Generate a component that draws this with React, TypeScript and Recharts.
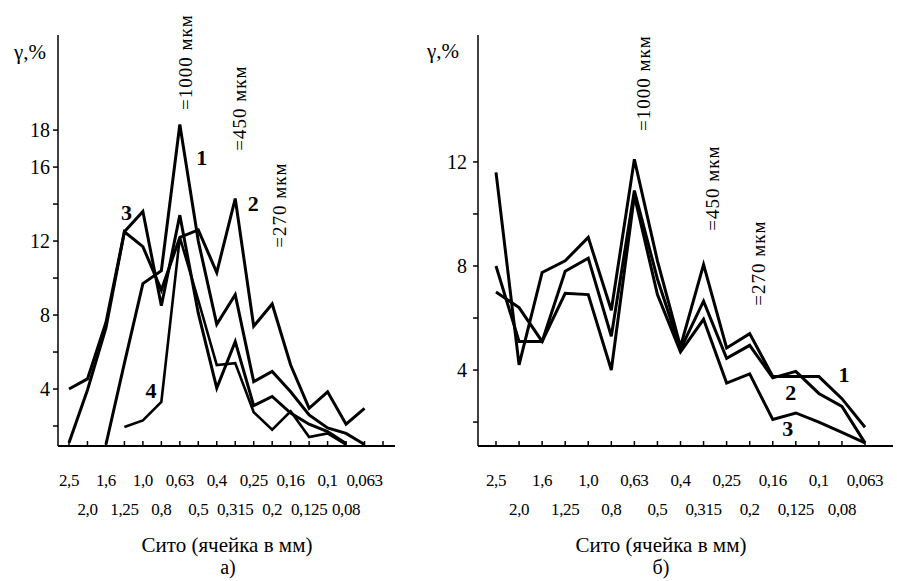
import { LineChart, Line, XAxis, YAxis, ReferenceLine } from "recharts";

// sieve openings, mm (panel а has one extra unlabeled tick at the end)
const sievesA = ["2,5", "2,0", "1,6", "1,25", "1,0", "0,8", "0,63", "0,5", "0,4", "0,315", "0,25", "0,2", "0,16", "0,125", "0,1", "0,08", "0,063", ""];
const sievesB = ["2,5", "2,0", "1,6", "1,25", "1,0", "0,8", "0,63", "0,5", "0,4", "0,315", "0,25", "0,2", "0,16", "0,125", "0,1", "0,08", "0,063"];

// panel а, γ %
const a1 = [null, null, 1.0, 5.4, 9.7, 10.4, 18.3, 12.0, 7.5, 9.1, 4.4, 4.95, 3.85, 2.6, 1.9, 1.6, 1.0, null];
const a2 = [1.1, 3.95, 7.3, 12.5, 11.7, 9.35, 12.2, 12.6, 10.3, 14.3, 7.4, 8.6, 5.3, 2.96, 3.85, 2.1, 2.95, null];
const a3 = [4.0, 4.55, 7.6, 12.5, 13.6, 8.5, 13.4, 8.1, 4.05, 6.56, 3.1, 3.6, 2.7, 2.1, 1.7, 1.05, null, null];
const a4 = [null, null, null, 1.95, 2.3, 3.3, 12.2, 8.8, 5.3, 5.4, 2.75, 1.8, 2.8, 1.4, 1.6, 1.0, null, null];

// panel б, γ %
const b1 = [11.6, 4.2, 7.75, 8.2, 9.1, 6.3, 12.1, 8.2, 4.9, 8.05, 4.85, 5.4, 3.75, 3.75, 3.75, 2.9, 1.8];
const b2 = [8.0, 5.1, 5.1, 7.8, 8.3, 5.3, 10.9, 7.5, 4.8, 6.65, 4.45, 4.95, 3.7, 3.95, 3.1, 2.6, 1.2];
const b3 = [7.0, 6.4, 5.1, 6.95, 6.9, 4.0, 10.7, 6.9, 4.7, 5.95, 3.5, 3.85, 2.1, 2.35, 2.0, 1.6, 1.2];

const yTicksA = [2, 4, 6, 8, 10, 12, 14, 16, 18];
const yLabelsA = [4, 8, 12, 16, 18];
const yTicksB = [2, 4, 6, 8, 10, 12];
const yLabelsB = [4, 8, 12];

const markSieves = ["0,63", "0,315", "0,2"];
const markTexts = ["=1000 мкм", "=450 мкм", "=270 мкм"];

const INK = "#000";
const FONT = "'Liberation Serif', 'DejaVu Serif', serif";

const rowsA = sievesA.map((s, i) => ({ sieve: s, c1: a1[i], c2: a2[i], c3: a3[i], c4: a4[i] }));
const rowsB = sievesB.map((s, i) => ({ sieve: s, c1: b1[i], c2: b2[i], c3: b3[i] }));

const SieveTick = (props: any) => {
  const { x, y, payload } = props;
  const idx = props.index ?? payload.index ?? 0;
  const low = idx % 2 === 1;
  return (
    <g>
      <line x1={x} y1={y} x2={x} y2={y - 5} stroke={INK} strokeWidth={1.5} />
      <text x={x} y={y + (low ? 63 : 34)} textAnchor="middle" dominantBaseline="central"
        fontSize={17} letterSpacing={-0.4} fontFamily={FONT} fill={INK}>
        {payload.value}
      </text>
    </g>
  );
};

function curveLabel(text: string, at: number, dx: number, dy: number) {
  return (p: any) => {
    if (p.index !== at) return null;
    return (
      <text x={p.x + dx} y={p.y + dy} textAnchor="middle" dominantBaseline="central"
        fontSize={22} fontWeight="bold" fontFamily={FONT} fill={INK}>
        {text}
      </text>
    );
  };
}

function markLabel(text: string, dx: number, cy: number) {
  return (p: any) => {
    const cx = p.viewBox.x + dx;
    return (
      <text x={cx} y={cy} transform={`rotate(-90, ${cx}, ${cy})`} textAnchor="middle"
        dominantBaseline="central" fontSize={19} letterSpacing={1} fontFamily={FONT} fill={INK}>
        {text}
      </text>
    );
  };
}

const lineProps = {
  type: "linear" as const,
  stroke: INK,
  strokeWidth: 3,
  dot: false,
  isAnimationActive: false,
};

const markYA = [62, 108, 205];
const markDxA = [6, 4, 7];
const markYB = [83, 188, 263];
const markDxB = [9, 9, 9];

function PanelA() {
  return (
    <LineChart width={420} height={581} data={rowsA} margin={{ top: 35, right: 25, bottom: 0, left: 0 }}>
      <XAxis dataKey="sieve" interval={0} height={135} tickSize={0} tickMargin={0}
        padding={{ left: 11, right: 12 }} tick={<SieveTick />} tickLine={false}
        axisLine={{ stroke: INK, strokeWidth: 2 }} />
      <YAxis type="number" domain={[0.92, 23.14]} ticks={yTicksA} width={58} allowDataOverflow
        tickSize={5} tickMargin={3} tickLine={{ stroke: INK, strokeWidth: 1.5 }}
        axisLine={{ stroke: INK, strokeWidth: 1.5 }}
        tickFormatter={(v: number) => (yLabelsA.includes(v) ? String(v) : "")}
        tick={{ fill: INK, fontSize: 20, fontFamily: FONT }} />
      {markSieves.map((s, i) => (
        <ReferenceLine key={s} x={s} stroke="none" label={markLabel(markTexts[i], markDxA[i], markYA[i])} />
      ))}
      <Line dataKey="c1" {...lineProps} label={curveLabel("1", 6, 22, 33)} />
      <Line dataKey="c2" {...lineProps} label={curveLabel("2", 9, 18, 5)} />
      <Line dataKey="c3" {...lineProps} label={curveLabel("3", 3, 2, -19)} />
      <Line dataKey="c4" {...lineProps} strokeWidth={2.6} label={curveLabel("4", 4, 8, -30)} />
    </LineChart>
  );
}

function PanelB() {
  return (
    <LineChart width={477} height={581} data={rowsB} margin={{ top: 35, right: 4, bottom: 0, left: 0 }}>
      <XAxis dataKey="sieve" interval={0} height={135} tickSize={0} tickMargin={0}
        padding={{ left: 18, right: 28 }} tick={<SieveTick />} tickLine={false}
        axisLine={{ stroke: INK, strokeWidth: 2 }} />
      <YAxis type="number" domain={[1.08, 16.88]} ticks={yTicksB} width={58} allowDataOverflow
        tickSize={5} tickMargin={6} tickLine={{ stroke: INK, strokeWidth: 1.5 }}
        axisLine={{ stroke: INK, strokeWidth: 1.5 }}
        tickFormatter={(v: number) => (yLabelsB.includes(v) ? String(v) : "")}
        tick={{ fill: INK, fontSize: 20, fontFamily: FONT }} />
      {markSieves.map((s, i) => (
        <ReferenceLine key={s} x={s} stroke="none" label={markLabel(markTexts[i], markDxB[i], markYB[i])} />
      ))}
      <Line dataKey="c1" {...lineProps} label={curveLabel("1", 15, 2, -24)} />
      <Line dataKey="c2" {...lineProps} label={curveLabel("2", 13, -5, 21)} />
      <Line dataKey="c3" {...lineProps} label={curveLabel("3", 13, -8, 16)} />
    </LineChart>
  );
}

export default function App() {
  return (
    <div style={{ position: "absolute", left: 0, top: 0, width: 897, height: 581, background: "#fff" }}>
      <div style={{ position: "absolute", left: 0, top: 0 }}>
        <PanelA />
      </div>
      <div style={{ position: "absolute", left: 420, top: 0 }}>
        <PanelB />
      </div>
      <svg width={897} height={581} style={{ position: "absolute", left: 0, top: 0, pointerEvents: "none" }}
        fontFamily={FONT} fill={INK}>
        <text x={30} y={52} fontSize={21} textAnchor="middle" dominantBaseline="central">γ,%</text>
        <text x={443} y={51} fontSize={21} textAnchor="middle" dominantBaseline="central">γ,%</text>
        <text x={227} y={545} fontSize={21} textAnchor="middle" dominantBaseline="central">Сито (ячейка в мм)</text>
        <text x={661} y={545} fontSize={21} textAnchor="middle" dominantBaseline="central">Сито (ячейка в мм)</text>
        <text x={228} y={567} fontSize={20} textAnchor="middle" dominantBaseline="central">а)</text>
        <text x={661} y={567} fontSize={20} textAnchor="middle" dominantBaseline="central">б)</text>
      </svg>
    </div>
  );
}
